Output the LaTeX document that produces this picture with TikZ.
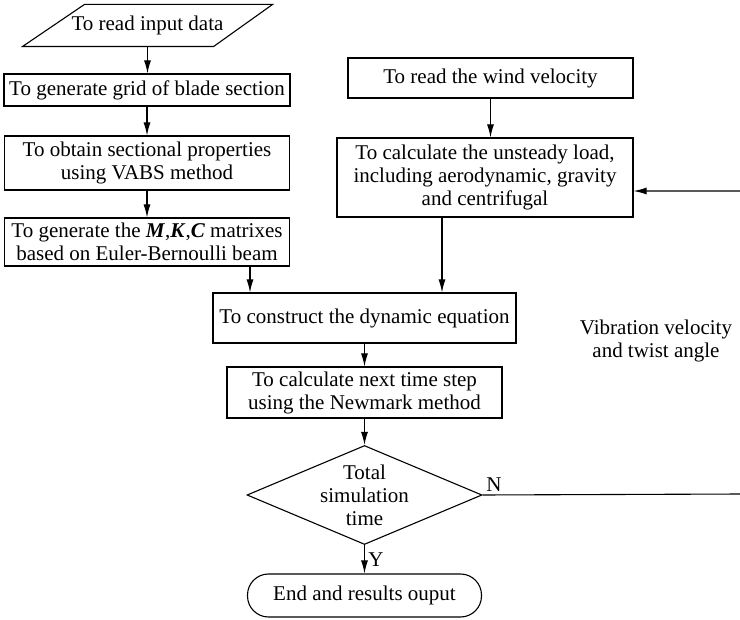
\documentclass[tikz,border=0pt]{standalone}
\usepackage{fontspec}
\setmainfont{Liberation Serif}
\usetikzlibrary{arrows.meta,shapes.geometric}

\begin{document}
\begin{tikzpicture}[x=1pt,y=-1pt,line width=1.1pt,
        font=\fontsize{21}{23}\selectfont,
        >={Latex[length=13pt,width=7pt]},
        box/.style={draw,align=center,inner sep=0pt}]
    \useasboundingbox (0,0) rectangle (740,620);

    % left column
    \node[align=center,inner sep=0pt,minimum width=249pt,minimum height=41pt] (input) at (147.5,25.5) {To read input data};
    \draw ([xshift=62pt]input.north west) -- (input.north east)
        -- ([xshift=-59pt]input.south east) -- (input.south west) -- cycle;
    \node[box,minimum width=286pt,minimum height=32pt] (grid) at (147,90) {To generate grid of blade section};
    \node[box,minimum width=285pt,minimum height=54pt] (vabs) at (147,163) {To obtain sectional properties\\ using VABS method};
    \node[box,minimum width=285pt,minimum height=48pt] (mkc) at (147,242)
        {To generate the \textbf{\textit{M}},\textbf{\textit{K}},\textbf{\textit{C}} matrixes\\based on Euler-Bernoulli beam};

    % right column
    \node[box,minimum width=285pt,minimum height=40pt] (wind) at (490.5,78) {To read the wind velocity};
    \node[box,minimum width=296pt,minimum height=79pt] (load) at (485,177.5)
        {To calculate the unsteady load,\\including aerodynamic, gravity\\and centrifugal};

    % centre column
    \node[box,minimum width=303pt,minimum height=50pt] (dyn) at (364.5,318) {To construct the dynamic equation};
    \node[box,minimum width=275pt,minimum height=51pt] (newmark) at (364.5,392.5)
        {To calculate next time step\\using the Newmark method};
    \node[box,shape=diamond,minimum width=235pt,minimum height=99pt,
        label={[align=center]center:Total\\simulation\\time}] (total) at (364.5,495) {};
    \node[box,rounded corners=21pt,minimum width=234pt,minimum height=43pt] (stop) at (364.5,595.5) {End and results ouput};

    \node[align=center] (vib) at (656,341) {Vibration velocity\\and twist angle};

    \coordinate (mq) at (250,266);
    \coordinate (lq) at (442,217);
    \coordinate (fb) at (743,494);
    \coordinate (fa) at (743,191);

    \begin{scope}[->]
        \draw (input.south) -- (input.south |- grid.north);
        \draw (grid) -- (vabs);
        \draw (vabs) -- (mkc);
        \draw (mq) -- (mq |- dyn.north);
        \draw (wind.south) -- (wind.south |- load.north);
        \draw (lq) -- (lq |- dyn.north);
        \draw (dyn) -- (newmark);
        \draw (newmark) -- (total);
        \draw (total) -- node[right]{Y} (stop);
        \draw (total.east) -- node[pos=0,above right]{N} (fb) -- (fa) -- (load.east |- fa);
    \end{scope}
\end{tikzpicture}
\end{document}
